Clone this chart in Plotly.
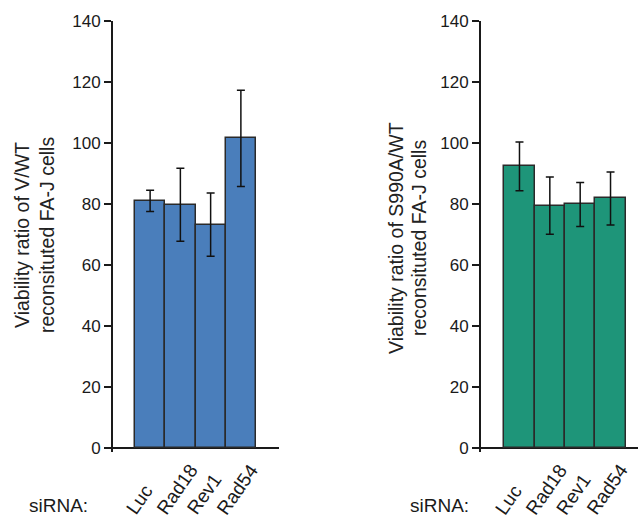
import plotly.graph_objects as go

# ---- data ----
categories = ["Luc", "Rad18", "Rev1", "Rad54"]
v_wt_values = [81.0, 79.7, 73.2, 101.5]
v_wt_errors = [3.5, 12.0, 10.4, 15.8]
s990a_values = [92.3, 79.4, 79.8, 81.8]
s990a_errors = [8.0, 9.4, 7.2, 8.7]
y_ticks = [0, 20, 40, 60, 80, 100, 120, 140]
left_title = ["Viability ratio of V/WT", "reconsituted FA-J cells"]
right_title = ["Viability ratio of S990A/WT", "reconsituted FA-J cells"]
x_prefix = "siRNA:"

W, H = 638, 519
AX = "#1a1a1a"
BLUE = "#4a7ebb"
GREEN = "#1e9579"
SANS = "Liberation Sans, Arial, sans-serif"

fig = go.Figure()

def add_bars(vals, errs, color, xa, ya):
    fig.add_trace(go.Bar(
        x=categories, y=vals, width=1.0,
        marker=dict(color=color, line=dict(color="#2a2a2a", width=1.5)),
        error_y=dict(type="data", array=errs, visible=True,
                     color="#111111", thickness=1.5, width=4),
        xaxis=xa, yaxis=ya, showlegend=False, hoverinfo="skip",
    ))

add_bars(v_wt_values, v_wt_errors, BLUE, "x", "y")
add_bars(s990a_values, s990a_errors, GREEN, "x2", "y2")

ydom = [(H - 452.3) / H, (H - 21) / H]

yax = dict(range=[-1.5, 140], tickvals=y_ticks, ticks="outside", ticklen=7,
           tickwidth=2, tickcolor=AX, showline=True, linewidth=2, linecolor=AX,
           showgrid=False, zeroline=True, zerolinecolor=AX, zerolinewidth=2,
           tickfont=dict(family=SANS, size=17, color=AX), domain=ydom,
           automargin=False)
xax = dict(type="category", showticklabels=False, ticks="", showgrid=False,
           showline=False, zeroline=False, automargin=False)

fig.update_layout(
    width=W, height=H,
    margin=dict(l=0, r=0, t=0, b=0, pad=0, autoexpand=False),
    paper_bgcolor="white", plot_bgcolor="white",
    bargap=0,
    xaxis=dict(xax, domain=[113 / W, 279 / W], range=[-1.227, 4.26], anchor="y"),
    yaxis=dict(yax, anchor="x"),
    xaxis2=dict(xax, domain=[481 / W, 1.0], range=[-1.268, 3.905], anchor="y2"),
    yaxis2=dict(yax, anchor="x2"),
)

ann = []
for xr in ["x", "x2"]:
    for c in categories:
        ann.append(dict(x=c, xref=xr, y=(H - 521) / H, yref="paper",
                        text=c, showarrow=False, textangle=-55,
                        xanchor="left", yanchor="bottom", xshift=-31,
                        font=dict(family=SANS, size=19, color=AX)))

ann.append(dict(x=27 / W, y=1 - 505 / H, xref="paper", yref="paper",
                text=x_prefix, showarrow=False, xanchor="left", yanchor="middle",
                font=dict(family=SANS, size=19, color=AX)))
ann.append(dict(x=408 / W, y=1 - 505 / H, xref="paper", yref="paper",
                text=x_prefix, showarrow=False, xanchor="left", yanchor="middle",
                font=dict(family=SANS, size=19, color=AX)))

for lines, xs, yc in [(left_title, [22, 47], 235), (right_title, [396, 419], 238)]:
    for t, xc in zip(lines, xs):
        ann.append(dict(x=xc / W, y=1 - yc / H, xref="paper", yref="paper",
                        text=t, showarrow=False, textangle=-90,
                        xanchor="center", yanchor="middle",
                        font=dict(family=SANS, size=19.5, color="#222222")))

fig.update_layout(annotations=ann)
fig.write_html("out.html", config={"displayModeBar": False},
               post_script="document.body.style.margin='0';document.body.style.overflow='hidden';")
